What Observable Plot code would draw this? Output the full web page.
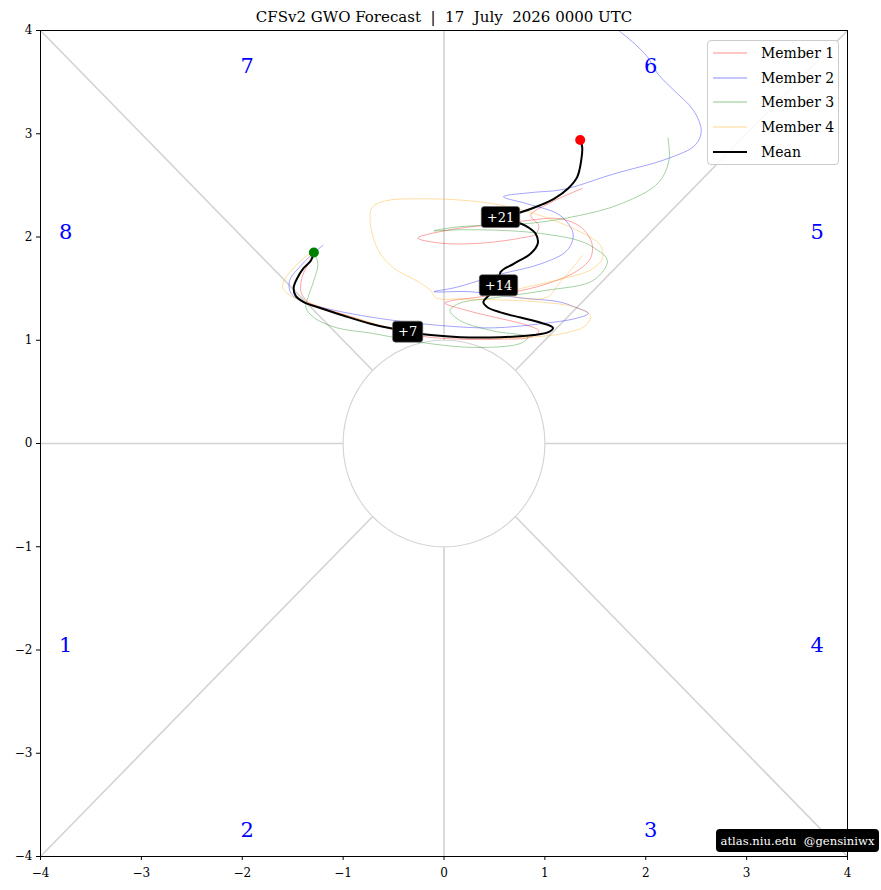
<!DOCTYPE html>
<html><head><meta charset="utf-8">
<script src="https://cdn.jsdelivr.net/npm/d3@7"></script>
<script src="https://cdn.jsdelivr.net/npm/@observablehq/plot@0.6"></script>
<style>
body{margin:0;background:#fff;}
#wrap{position:relative;width:881px;height:890px;font-family:"DejaVu Serif",serif;}
#wrap svg{white-space:pre;}
#legend{position:absolute;left:707px;top:40px;width:132px;height:125px;border:1px solid #ccc;border-radius:4px;background:rgba(255,255,255,0.85);box-sizing:border-box;padding-top:0px;}
.lrow{height:24.6px;display:flex;align-items:center;font-size:14px;}
.lsw{width:34px;margin-left:5px;margin-right:14px;}
#mark{position:absolute;left:716px;top:829px;width:163px;height:23px;background:#000;color:#fff;border-radius:4px;font-size:11.6px;display:flex;align-items:center;justify-content:center;white-space:pre;}
</style></head><body><div id="wrap"></div>
<script>
const title = "CFSv2 GWO Forecast  |  17  July  2026 0000 UTC";
const tickValues = [-4, -3, -2, -1, 0, 1, 2, 3, 4];
const memberNames = ["Member 1", "Member 2", "Member 3", "Member 4"];
const memberColors = ["red", "blue", "green", "orange"];

const member1X = [-1.29,-1.34,-1.40,-1.42,-1.36,-1.22,-0.93,-0.53,-0.23,0.16,0.56,0.86,0.94,0.81,0.56,0.26,0.01,0.06,0.36,0.76,1.06,1.30,1.45,1.47,1.42,1.32,1.13,0.83,0.46,0.06,-0.26,-0.03,0.36,0.76,0.91,0.94,0.86,1.03,1.20,1.37];
const member1Y = [1.85,1.75,1.63,1.48,1.38,1.32,1.23,1.11,1.04,1.01,1.01,1.03,1.09,1.15,1.21,1.28,1.36,1.38,1.42,1.48,1.56,1.66,1.79,1.92,2.03,2.12,2.18,2.16,2.12,2.07,1.99,1.94,1.94,1.99,2.03,2.11,2.21,2.32,2.40,2.47];

const member2X = [-1.20,-1.32,-1.44,-1.53,-1.52,-1.42,-1.13,-0.63,0.00,0.49,0.96,1.30,1.43,1.30,1.15,0.76,0.26,-0.10,0.11,0.56,0.96,1.22,1.28,1.15,0.83,0.59,0.86,1.18,1.68,2.22,2.49,2.55,2.47,2.28,2.12,2.02,1.88,1.73,1.60];
const member2Y = [1.92,1.82,1.70,1.58,1.46,1.38,1.30,1.21,1.14,1.12,1.16,1.21,1.26,1.32,1.37,1.41,1.47,1.47,1.51,1.64,1.74,1.87,2.03,2.21,2.32,2.39,2.43,2.46,2.61,2.76,2.89,3.03,3.23,3.42,3.58,3.74,3.88,4.00,4.10];

const member3X = [-1.29,-1.25,-1.29,-1.35,-1.37,-1.29,-1.06,-0.73,-0.16,0.33,0.76,0.83,0.49,0.16,0.06,0.16,0.49,0.99,1.48,1.62,1.48,1.32,0.99,0.66,0.16,-0.10,0.16,0.83,1.35,1.75,2.12,2.23,2.22];
const member3Y = [1.85,1.74,1.58,1.41,1.32,1.22,1.12,1.07,0.97,0.93,0.97,1.03,1.09,1.19,1.29,1.36,1.41,1.48,1.58,1.77,1.90,1.97,2.03,2.06,2.07,2.06,2.10,2.13,2.21,2.32,2.52,2.74,2.96];

const member4X = [-1.32,-1.45,-1.56,-1.60,-1.52,-1.37,-1.03,-0.53,-0.13,0.36,0.86,1.20,1.40,1.45,1.30,0.96,0.56,0.16,-0.08,-0.13,-0.26,-0.50,-0.65,-0.73,-0.71,-0.58,-0.23,0.26,0.66,1.01,1.35,1.55,1.57,1.45,1.15,0.76,0.61,0.86,1.03,1.15,1.30,1.37];
const member4Y = [1.85,1.74,1.62,1.51,1.43,1.37,1.26,1.12,1.05,1.02,1.03,1.07,1.14,1.24,1.32,1.37,1.39,1.40,1.41,1.48,1.57,1.70,1.87,2.13,2.29,2.35,2.37,2.35,2.29,2.19,2.05,1.92,1.79,1.68,1.59,1.50,1.45,1.40,1.42,1.56,1.73,1.82];

const meanX = [-1.29,-1.32,-1.39,-1.45,-1.49,-1.47,-1.39,-1.22,-1.00,-0.73,-0.50,-0.36,-0.13,0.16,0.56,0.89,1.04,1.08,0.96,0.76,0.56,0.43,0.39,0.43,0.54,0.56,0.69,0.86,0.93,0.91,0.84,0.71,0.56,0.73,0.96,1.09,1.23,1.32,1.36,1.37,1.35];
const meanY = [1.85,1.77,1.70,1.61,1.51,1.43,1.37,1.31,1.24,1.16,1.11,1.08,1.05,1.03,1.03,1.05,1.08,1.12,1.17,1.22,1.27,1.32,1.37,1.42,1.53,1.66,1.74,1.84,1.94,2.03,2.09,2.15,2.19,2.23,2.31,2.37,2.47,2.58,2.74,2.87,2.94];

const dayLabels = ["+7", "+14", "+21"];
const dayX = [-0.36, 0.54, 0.56];
const dayY = [1.08, 1.53, 2.19];

const phaseLabels = ["1", "2", "3", "4", "5", "6", "7", "8"];
const phaseX = [-3.75, -1.95, 2.05, 3.7, 3.7, 2.05, -1.95, -3.75];
const phaseY = [-1.95, -3.75, -3.75, -1.95, 2.05, 3.65, 3.65, 2.05];

const boundaryAngles = [0, 45, 90, 135, 180, 225, 270, 315];
const circleAngles = d3.range(0, 361, 2);

// tables built from the arrays
const memberSeries = [[member1X, member1Y], [member2X, member2Y], [member3X, member3Y], [member4X, member4Y]];
const memberRows = memberSeries.flatMap(([xs, ys], i) => xs.map((x, j) => ({member: memberNames[i], x, y: ys[j]})));
const meanRows = meanX.map((x, i) => ({x, y: meanY[i]}));
const dayRows = dayLabels.map((t, i) => ({t, x: dayX[i], y: dayY[i]}));
const phaseRows = phaseLabels.map((t, i) => ({t, x: phaseX[i], y: phaseY[i]}));
const segs = boundaryAngles.map(a => {
  const r = a * Math.PI / 180, c = Math.cos(r), s = Math.sin(r);
  const k = 4 / Math.max(Math.abs(c), Math.abs(s));
  return {x1: c, y1: s, x2: c * k, y2: s * k};
});
const circleRows = circleAngles.map(a => ({x: Math.cos(a * Math.PI / 180), y: Math.sin(a * Math.PI / 180)}));
const fmt = d => d < 0 ? "\u2212" + Math.abs(d) : String(d);

const chart = Plot.plot({
  width: 881, height: 890,
  marginLeft: 40, marginRight: 34, marginTop: 30, marginBottom: 34,
  style: {fontFamily: "DejaVu Serif, serif", fontSize: "12px", background: "white"},
  x: {domain: [-4, 4]},
  y: {domain: [-4, 4]},
  color: {domain: memberNames, range: memberColors},
  marks: [
    Plot.link(segs, {x1: "x1", y1: "y1", x2: "x2", y2: "y2", stroke: "#d3d3d3", strokeWidth: 1.6}),
    Plot.line(circleRows, {x: "x", y: "y", stroke: "#d3d3d3", strokeWidth: 1.1}),
    Plot.line(memberRows, {x: "x", y: "y", z: "member", stroke: "member", strokeWidth: 0.8, strokeOpacity: 0.45, curve: "catmull-rom", clip: true}),
    Plot.line(meanRows, {x: "x", y: "y", stroke: "black", strokeWidth: 2, curve: "catmull-rom"}),
    Plot.dot(meanRows.slice(0, 1), {x: "x", y: "y", fill: "green", r: 5}),
    Plot.dot(meanRows.slice(-1), {x: "x", y: "y", fill: "red", r: 5}),
    Plot.text(dayRows, {x: "x", y: "y", text: "t", fill: "white", fontSize: 13, ariaDescription: "day-labels"}),
    Plot.text(phaseRows, {x: "x", y: "y", text: "t", fill: "blue", fontSize: 21}),
    Plot.frame({stroke: "black", strokeWidth: 1}),
    Plot.axisX({ticks: tickValues, tickFormat: fmt, tickSize: 4, tickPadding: 8, fontSize: 12, label: null}),
    Plot.axisY({ticks: tickValues, tickFormat: fmt, tickSize: 4, tickPadding: 4, fontSize: 12, label: null}),
    Plot.text([title], {frameAnchor: "top", lineAnchor: "middle", dy: -13, fontSize: 15})
  ]
});

const wrap = document.getElementById("wrap");
wrap.appendChild(chart);

// rounded black boxes behind day labels
d3.select(chart).select('g[aria-description="day-labels"]').selectAll("text").each(function () {
  const b = this.getBBox();
  const px = 5.5, py = 3;
  const r = d3.select(this.parentNode).insert("rect", () => this)
    .attr("x", b.x - px).attr("y", b.y - py)
    .attr("width", b.width + 2 * px).attr("height", b.height + 2 * py)
    .attr("rx", 3).attr("fill", "black").attr("stroke", "#666").attr("stroke-width", 0.6);
  const tr = this.getAttribute("transform");
  if (tr) r.attr("transform", tr);
});

// legend
const legend = document.createElement("div");
legend.id = "legend";
const entries = memberNames.map((n, i) => ({n, c: memberColors[i], w: 1, o: 0.45})).concat([{n: "Mean", c: "black", w: 2, o: 1}]);
for (const e of entries) {
  const row = document.createElement("div");
  row.className = "lrow";
  row.innerHTML = `<svg class="lsw" width="34" height="6"><line x1="0" x2="34" y1="3" y2="3" stroke="${e.c}" stroke-width="${e.w}" stroke-opacity="${e.o}"/></svg><span>${e.n}</span>`;
  legend.appendChild(row);
}
wrap.appendChild(legend);

const mark = document.createElement("div");
mark.id = "mark";
mark.textContent = "atlas.niu.edu  @gensiniwx";
wrap.appendChild(mark);
</script></body></html>
